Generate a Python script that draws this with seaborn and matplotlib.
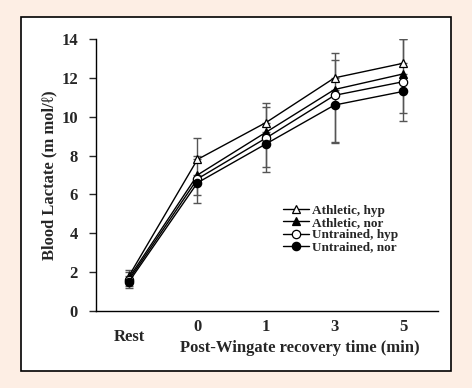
import pandas as pd
import seaborn as sns
import matplotlib.pyplot as plt
from matplotlib.patches import Rectangle

# Время измерения
time_points = ["Rest", "0", "1", "3", "5"]

# Средние значения лактата
athletic_hyp = [1.8, 7.8, 9.7, 12.0, 12.75]
athletic_nor = [1.7, 7.0, 9.2, 11.4, 12.2]
untrained_hyp = [1.6, 6.8, 8.9, 11.1, 11.8]
untrained_nor = [1.5, 6.6, 8.6, 10.6, 11.3]

# Стандартные отклонения
athletic_hyp_sd = [0.3, 1.1, 1.0, 1.3, 1.25]
athletic_nor_sd = [0.3, 1.0, 1.3, 1.5, 1.8]
untrained_hyp_sd = [0.3, 0.85, 1.5, 2.4, 1.6]
untrained_nor_sd = [0.3, 1.05, 1.45, 1.95, 1.5]

groups = ["Athletic, hyp", "Athletic, nor", "Untrained, hyp", "Untrained, nor"]
means = [athletic_hyp, athletic_nor, untrained_hyp, untrained_nor]
sds = [athletic_hyp_sd, athletic_nor_sd, untrained_hyp_sd, untrained_nor_sd]
markers = ["^", "^", "o", "o"]
faces = ["white", "black", "white", "black"]
upward = [True, True, False, False]

rows = []
for g, m in zip(groups, means):
    for i, v in enumerate(m):
        rows.append({"group": g, "pos": i, "lactate": v})
df = pd.DataFrame(rows)

sns.set_style("ticks")
plt.rcParams["font.family"] = ["Liberation Serif", "DejaVu Serif"]
plt.rcParams["font.weight"] = "bold"

fig = plt.figure(figsize=(4.72, 3.88), dpi=100)
fig.patch.set_facecolor("#fdeee4")
fig.patches.append(Rectangle((21 / 472, 1 - 371 / 388), 430 / 472, 354 / 388,
                             transform=fig.transFigure, facecolor="white",
                             edgecolor="black", linewidth=1.2, zorder=-10))
ax = fig.add_axes([96 / 472, 1 - 311 / 388, 342 / 472, 272 / 388])
ax.set_facecolor("none")

# Планки погрешностей
for g, sd, up in zip(groups, sds, upward):
    sub = df[df["group"] == g]
    zeros = [0] * len(sd)
    yerr = [zeros, sd] if up else [sd, zeros]
    ax.errorbar(sub["pos"], sub["lactate"], yerr=yerr, fmt="none",
                ecolor="#555555", elinewidth=1, capsize=2.8, capthick=1, zorder=2)

# Линии с маркерами
for g, mk, fc in zip(groups, markers, faces):
    sns.lineplot(data=df[df["group"] == g], x="pos", y="lactate", ax=ax,
                 color="black", linewidth=1, marker=mk, markersize=6,
                 markerfacecolor=fc, markeredgecolor="black",
                 markeredgewidth=0.9, label=g, errorbar=None, zorder=3)

ax.set_xlim(-0.48, 4.51)
ax.set_ylim(0, 14)
ax.set_yticks(range(0, 15, 2))
ax.set_xticks(range(1, 5))
ax.set_xticklabels(time_points[1:])
ax.tick_params(axis="x", length=0, pad=6, labelsize=12)
ax.tick_params(axis="y", length=5, width=1, pad=8, labelsize=12, direction="out")
ax.text(0, -0.065, time_points[0], transform=ax.get_xaxis_transform(),
        ha="center", va="top", fontsize=12, fontweight="bold")
ax.set_xlabel("Post-Wingate recovery time (min)", fontsize=12,
              fontweight="bold", labelpad=2)
ax.xaxis.set_label_coords(0.597, -0.105)
ax.set_ylabel("Blood Lactate (m mol/ℓ)", fontsize=12, fontweight="bold",
              labelpad=3)
sns.despine(ax=ax)
for s in ["left", "bottom"]:
    ax.spines[s].set_linewidth(1)
    ax.spines[s].set_color("black")

handles, labels = ax.get_legend_handles_labels()
ax.legend(handles, labels, loc="upper left", bbox_to_anchor=(276 / 472, 1 - 198 / 388),
          bbox_transform=fig.transFigure, frameon=False, fontsize=9.5,
          handlelength=2.0, handletextpad=0.2, labelspacing=0.0, borderpad=0)

fig.savefig("out.png", dpi=100, facecolor=fig.get_facecolor())
